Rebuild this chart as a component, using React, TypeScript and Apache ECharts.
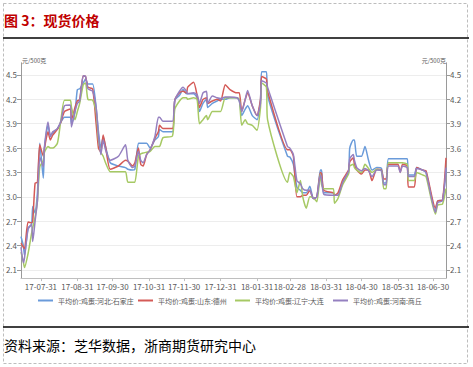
import React, { useEffect, useRef } from 'react';
import * as echarts from 'echarts';

// Day offsets counted from 2017-07-14
const START = Date.UTC(2017, 6, 14);
const X_MAX_DAY = 362;

const tickLabels = ['17-07-31', '17-08-31', '17-09-30', '17-10-31', '17-11-30', '17-12-31', '18-01-31', '18-02-28', '18-03-31', '18-04-30', '18-05-31', '18-06-30'];
const yTicks = [2.1, 2.4, 2.7, 3.0, 3.3, 3.6, 3.9, 4.2, 4.5];
const seriesNames = ['平均价:鸡蛋:河北:石家庄', '平均价:鸡蛋:山东:德州', '平均价:鸡蛋:辽宁:大连', '平均价:鸡蛋:河南:商丘'];

const days = [0, 2, 3, 6, 9, 10, 12, 14, 16, 19, 20, 23, 25, 27, 31, 34, 37, 42, 43, 46, 48, 50, 53, 55, 57, 61, 64, 66, 68, 70, 72, 76, 83, 89, 91, 95, 97, 100, 102, 104, 107, 110, 114, 117, 118, 121, 129, 131, 135, 138, 141, 142, 147, 150, 152, 155, 158, 159, 163, 167, 170, 174, 178, 184, 186, 188, 191, 193, 197, 201, 204, 205, 209, 210, 227, 229, 232, 235, 238, 240, 243, 246, 249, 252, 255, 256, 258, 266, 267, 270, 274, 279, 280, 283, 284, 286, 290, 293, 296, 299, 303, 307, 309, 311, 313, 321, 323, 325, 329, 330, 335, 337, 342, 345, 353, 355, 359, 362];

const hebei = [2.51, 2.40, 2.28, 2.62, 2.66, 2.88, 2.80, 3.05, 3.66, 3.23, 3.60, 3.88, 3.76, 3.78, 3.84, 3.92, 3.98, 3.98, 3.90, 4.05, 4.32, 4.33, 4.40, 4.45, 4.39, 4.39, 4.10, 3.80, 3.60, 3.74, 3.62, 3.42, 3.38, 3.36, 3.34, 3.33, 3.34, 3.66, 3.66, 3.66, 3.66, 3.60, 3.70, 3.74, 3.83, 3.80, 3.80, 4.19, 4.25, 4.32, 4.27, 4.27, 4.27, 4.22, 4.05, 4.15, 4.20, 4.10, 4.15, 4.18, 4.20, 4.20, 4.22, 4.22, 4.18, 4.00, 4.08, 4.12, 4.00, 3.95, 4.20, 4.54, 4.54, 4.25, 3.50, 3.49, 3.40, 3.12, 3.08, 3.05, 3.05, 3.13, 2.98, 3.00, 3.33, 3.33, 3.05, 3.05, 3.02, 3.02, 3.18, 3.30, 3.60, 3.70, 3.70, 3.50, 3.50, 3.62, 3.45, 3.33, 3.36, 3.35, 3.17, 3.17, 3.47, 3.47, 3.47, 3.47, 3.47, 3.27, 3.27, 3.36, 3.33, 3.30, 2.82, 2.95, 2.96, 3.33];

const shandong = [2.43, 2.38, 2.36, 2.69, 2.68, 2.70, 3.17, 3.18, 3.64, 3.50, 3.60, 3.80, 3.70, 3.76, 3.83, 3.92, 4.05, 4.08, 3.95, 4.10, 4.18, 4.20, 4.49, 4.48, 4.35, 4.33, 3.90, 3.60, 3.55, 3.76, 3.62, 3.34, 3.38, 3.45, 3.44, 3.38, 3.42, 3.60, 3.40, 3.38, 3.52, 3.58, 3.72, 3.80, 3.88, 3.84, 3.84, 4.19, 4.28, 4.30, 4.28, 4.35, 4.41, 4.25, 4.10, 4.20, 4.22, 4.15, 4.18, 4.20, 4.18, 4.38, 4.32, 4.28, 4.28, 4.05, 4.20, 4.28, 4.12, 4.00, 4.20, 4.48, 4.45, 4.30, 3.58, 3.58, 3.50, 3.00, 3.00, 3.02, 3.02, 3.08, 2.98, 3.00, 3.30, 3.29, 3.08, 3.05, 3.02, 3.05, 3.21, 3.33, 3.43, 3.48, 3.40, 3.33, 3.28, 3.33, 3.33, 3.20, 3.34, 3.33, 3.22, 3.22, 3.40, 3.40, 3.30, 3.40, 3.38, 3.12, 3.12, 3.36, 3.33, 3.32, 2.86, 2.95, 2.96, 3.48];

const liaoning = [2.32, 2.20, 2.13, 2.30, 2.55, 2.62, 2.75, 2.95, 3.37, 3.45, 3.55, 3.62, 3.60, 3.60, 3.66, 3.95, 4.19, 4.19, 4.10, 3.95, 4.05, 4.15, 4.38, 4.40, 4.20, 4.19, 4.05, 3.70, 3.55, 3.50, 3.42, 3.31, 3.31, 3.31, 3.18, 3.18, 3.18, 3.50, 3.53, 3.54, 3.55, 3.56, 3.62, 3.62, 3.62, 3.73, 3.75, 4.08, 4.18, 4.22, 4.22, 4.20, 4.22, 4.20, 3.90, 3.95, 4.00, 3.95, 4.05, 4.05, 4.05, 4.22, 4.22, 4.22, 4.20, 3.88, 3.95, 3.90, 3.88, 3.82, 4.10, 4.40, 4.35, 3.95, 3.18, 3.30, 3.25, 3.05, 3.20, 3.00, 2.86, 3.00, 2.99, 2.94, 3.28, 3.15, 3.10, 3.10, 2.92, 2.98, 3.15, 3.28, 3.38, 3.40, 3.36, 3.33, 3.30, 3.40, 3.35, 3.30, 3.34, 3.32, 3.10, 3.10, 3.42, 3.42, 3.42, 3.42, 3.40, 3.20, 3.20, 3.30, 3.27, 3.25, 2.79, 2.90, 2.91, 3.10];

const henan = [2.38, 2.19, 2.25, 2.60, 2.66, 2.45, 2.70, 2.95, 3.49, 3.37, 3.62, 3.92, 3.74, 3.80, 3.84, 3.93, 4.12, 4.13, 3.86, 4.05, 4.15, 4.18, 4.49, 4.48, 4.33, 4.30, 4.10, 3.75, 3.52, 3.70, 3.58, 3.45, 3.50, 3.64, 3.45, 3.36, 3.38, 3.56, 3.45, 3.42, 3.52, 3.58, 3.74, 3.98, 3.98, 3.93, 3.93, 4.19, 4.30, 4.35, 4.30, 4.27, 4.28, 4.26, 4.15, 4.28, 4.30, 4.15, 4.24, 4.22, 4.21, 4.23, 4.23, 4.22, 4.18, 4.05, 4.20, 4.31, 4.12, 4.00, 4.15, 4.43, 4.40, 4.35, 3.62, 3.60, 3.52, 3.20, 3.16, 3.10, 3.08, 3.08, 2.98, 3.00, 3.27, 3.22, 3.03, 3.02, 3.02, 3.02, 3.18, 3.32, 3.47, 3.52, 3.45, 3.36, 3.32, 3.35, 3.32, 3.25, 3.33, 3.32, 3.15, 3.15, 3.38, 3.38, 3.30, 3.38, 3.36, 3.25, 3.25, 3.35, 3.33, 3.30, 2.81, 2.93, 2.95, 3.36];

const seriesValues = [hebei, shandong, liaoning, henan];
const colors = ['#6A9BDA', '#D45A57', '#A6C964', '#9580C0'];

function labelDay(s: string): number {
  const [y, m, d] = s.split('-').map(Number);
  return Math.round((Date.UTC(2000 + y, m - 1, d) - START) / 86400000);
}

export default function App() {
  const ref = useRef<HTMLDivElement>(null);
  useEffect(() => {
    if (!ref.current) return;
    const chart = echarts.init(ref.current, undefined, { renderer: 'svg' });
    const labelDays = tickLabels.map(labelDay);
    const dayToLabel: Record<number, string> = {};
    labelDays.forEach((d, i) => { dayToLabel[d] = tickLabels[i]; });
    const font = "'Noto Sans CJK SC', 'Noto Sans', sans-serif";
    const axisColor = '#9A9A9A';
    const yBase = {
      type: 'value' as const,
      min: 2.0,
      max: 4.65,
      axisLine: { show: true, lineStyle: { color: axisColor, width: 1 } },
      axisTick: { show: true, customValues: yTicks, length: 4, lineStyle: { color: axisColor } },
      axisLabel: { customValues: yTicks, formatter: (v: number) => v.toFixed(1), fontSize: 8, color: '#595959', margin: 4, fontFamily: font },
    };
    const legendLefts = [38, 138, 235, 333];
    chart.setOption({
      animation: false,
      backgroundColor: '#ffffff',
      textStyle: { fontFamily: font },
      grid: { left: 21, right: 27, top: 62.8, bottom: 88.9, containLabel: false },
      xAxis: {
        type: 'value',
        min: 0,
        max: X_MAX_DAY,
        axisLine: { show: true, lineStyle: { color: '#BFBFBF', width: 1 } },
        axisTick: { show: true, customValues: labelDays, length: 3, lineStyle: { color: '#BFBFBF' } },
        axisLabel: { customValues: labelDays, formatter: (v: number) => dayToLabel[Math.round(v)] || '', fontSize: 8, color: '#595959', margin: 4, fontFamily: font },
        splitLine: { show: false },
      },
      yAxis: [
        { ...yBase, position: 'left', splitLine: { show: true, lineStyle: { color: '#EDEDED', width: 1 } } },
        { ...yBase, position: 'right', splitLine: { show: false } },
      ],
      legend: seriesNames.map((n, i) => ({
        data: [n],
        left: legendLefts[i],
        top: 297,
        itemWidth: 15,
        itemHeight: 2,
        icon: 'rect',
        padding: 0,
        textStyle: { fontSize: 7, color: '#595959', fontFamily: font },
      })),
      series: seriesNames.map((n, i) => ({
        name: n,
        type: 'line',
        yAxisIndex: 0,
        data: days.map((d, j) => [d, seriesValues[i][j]]),
        showSymbol: false,
        symbol: 'none',
        smooth: 0.2,
        color: colors[i],
        lineStyle: { width: 1.5, color: colors[i] },
      })),
      graphic: [
        { type: 'rect', shape: { x: 3.5, y: 3.5, width: 464, height: 360 }, style: { fill: 'none', stroke: '#BDBDBD', lineWidth: 1, lineDash: [3, 2] }, silent: true },
        { type: 'text', x: 4, y: 20, style: { text: '图 3：现货价格', font: `bold 14px ${font}`, fill: '#C00000', textVerticalAlign: 'middle' } },
        { type: 'line', shape: { x1: 3, y1: 38, x2: 469, y2: 38 }, style: { stroke: '#000', lineWidth: 1.5 } },
        { type: 'text', x: 22, y: 63, style: { text: '元/500克', font: `6px ${font}`, fill: '#595959', textVerticalAlign: 'bottom' } },
        { type: 'text', x: 446, y: 63, style: { text: '元/500克', font: `6px ${font}`, fill: '#595959', textAlign: 'right', textVerticalAlign: 'bottom' } },
        { type: 'line', shape: { x1: 3, y1: 327, x2: 469, y2: 327 }, style: { stroke: '#000', lineWidth: 1.5 } },
        { type: 'text', x: 4, y: 345, style: { text: '资料来源：芝华数据，浙商期货研究中心', font: `14px ${font}`, fill: '#000', textVerticalAlign: 'middle' } },
      ],
    });
    return () => chart.dispose();
  }, []);
  return (
    <div style={{ position: 'absolute', left: 0, top: 0, width: 473, height: 367, background: '#fff' }}>
      <div ref={ref} style={{ width: 473, height: 367 }} />
    </div>
  );
}
